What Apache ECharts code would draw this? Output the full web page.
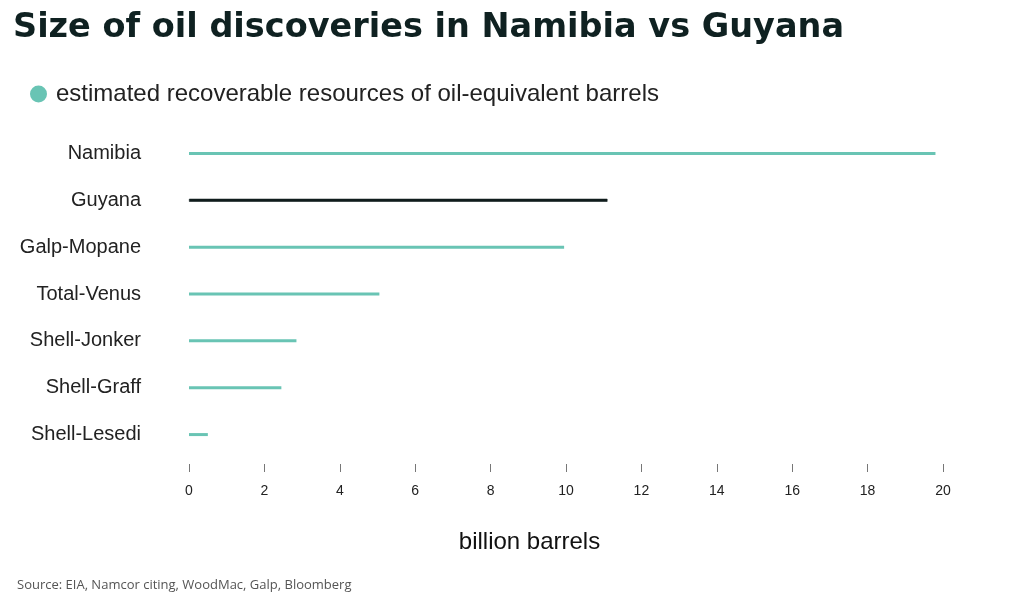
<!DOCTYPE html>
<html>
<head>
<meta charset="utf-8">
<script src="https://cdn.jsdelivr.net/npm/echarts@6/dist/echarts.min.js"></script>
<style>
    html, body { margin: 0; padding: 0; background: #fff; }
    #chart { width: 1024px; height: 599px; }
</style>
</head>
<body>
<div id="chart"></div>
<script>
const fields = ["Namibia", "Guyana", "Galp-Mopane", "Total-Venus", "Shell-Jonker", "Shell-Graff", "Shell-Lesedi"];
const resources = [19.8, 11.1, 9.95, 5.05, 2.85, 2.45, 0.5];
const xTicks = [0, 2, 4, 6, 8, 10, 12, 14, 16, 18, 20];

const TEAL = "#69c4b4";
const DARK = "#111d1d";

const chart = echarts.init(document.getElementById("chart"));

// Guyana is the comparison bar, drawn dark and a touch thicker
const barData = resources.map((v, i) => {
    const isGuyana = fields[i] === "Guyana";
    return {
        value: v,
        itemStyle: isGuyana
            ? { color: DARK, borderColor: DARK, borderWidth: 0.6 }
            : { color: TEAL }
    };
});

const option = {
    backgroundColor: "#fff",
    animation: false,
    title: [
        {
            text: "Size of oil discoveries in Namibia vs Guyana",
            left: 8,
            top: 6,
            textStyle: {
                fontFamily: "DejaVu Sans",
                fontWeight: "bold",
                fontSize: 33.5,
                color: "#0f2121"
            }
        },
        {
            text: "Source: EIA, Namcor citing, WoodMac, Galp, Bloomberg",
            left: 12,
            top: 574,
            textStyle: {
                fontFamily: "Open Sans",
                fontWeight: "normal",
                fontSize: 13,
                color: "#555"
            }
        }
    ],
    legend: {
        left: 25,
        top: 77,
        icon: "circle",
        itemWidth: 17,
        itemHeight: 17,
        itemGap: 8,
        textStyle: {
            fontFamily: "Liberation Sans",
            fontSize: 24,
            color: "#222",
            padding: [0, 0, 0, 4]
        },
        data: ["estimated recoverable resources of oil-equivalent barrels"]
    },
    grid: {
        left: 189,
        right: 81,
        top: 130,
        bottom: 141
    },
    xAxis: {
        type: "value",
        min: 0,
        max: 20,
        interval: 2,
        offset: 6,
        name: "billion barrels",
        nameLocation: "middle",
        nameGap: 66,
        nameTextStyle: {
            fontFamily: "Liberation Sans",
            fontSize: 24,
            color: "#111",
            padding: [0, 73, 0, 0]
        },
        axisLine: { show: false },
        axisTick: { show: true, length: 8, lineStyle: { color: "#777" } },
        axisLabel: {
            margin: 20,
            fontFamily: "Liberation Sans",
            fontSize: 14,
            color: "#222",
            formatter: v => xTicks.includes(v) ? String(v) : ""
        },
        splitLine: { show: false }
    },
    yAxis: {
        type: "category",
        inverse: true,
        data: fields,
        axisLine: { show: false },
        axisTick: { show: false },
        axisLabel: {
            margin: 48,
            fontFamily: "Liberation Sans",
            fontSize: 20,
            color: "#222"
        }
    },
    series: [
        {
            name: "estimated recoverable resources of oil-equivalent barrels",
            type: "bar",
            barWidth: 3,
            itemStyle: { color: TEAL },
            data: barData
        }
    ]
};

chart.setOption(option);
</script>
</body>
</html>
